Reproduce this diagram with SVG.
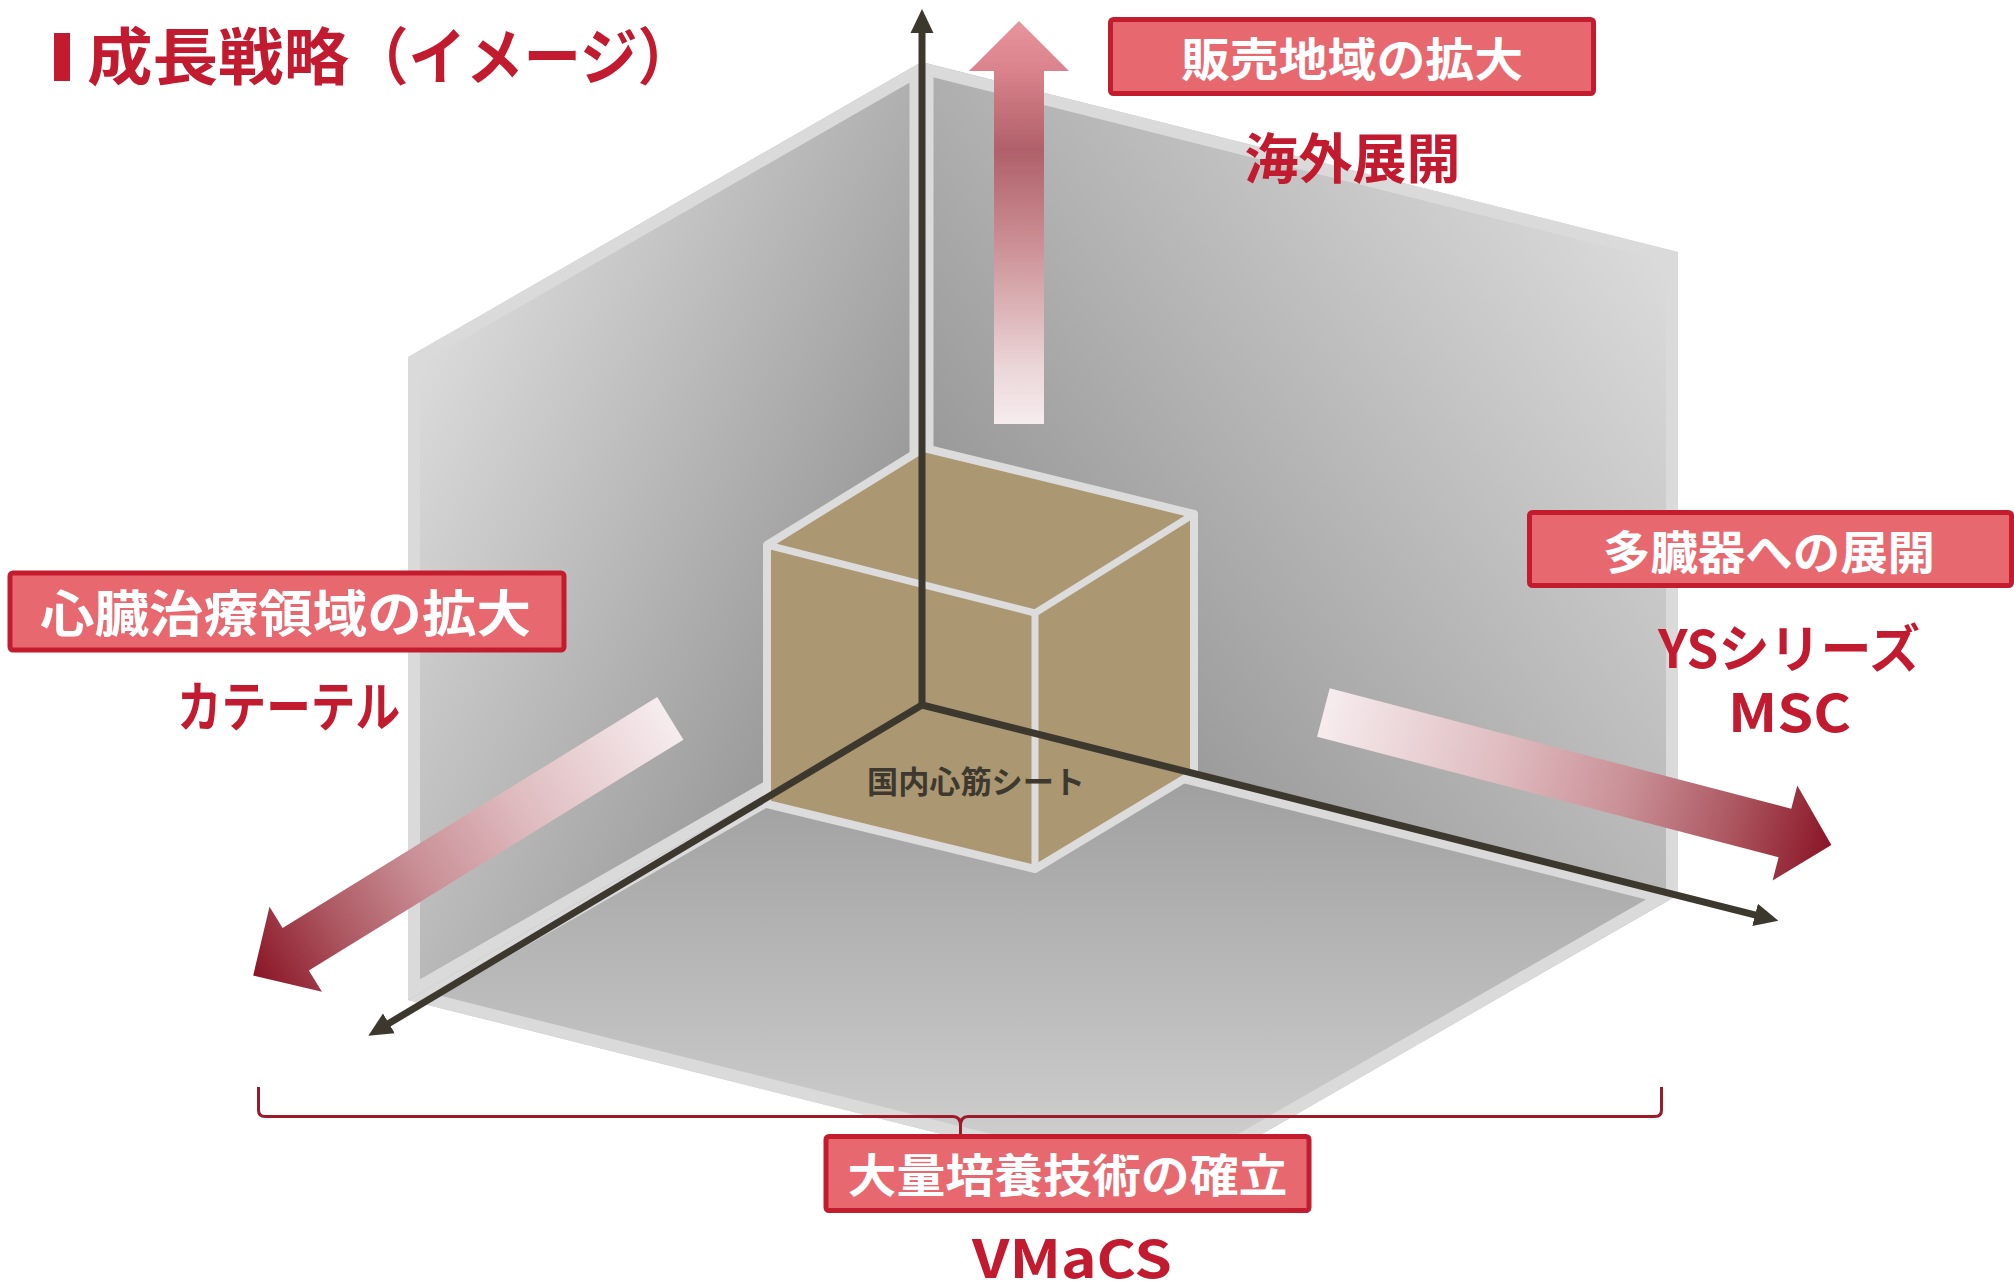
<svg xmlns="http://www.w3.org/2000/svg" width="2014" height="1285" viewBox="0 0 2014 1285">
  <style>
    .jp { font-family: 'Noto Sans CJK JP', 'Noto Sans', sans-serif; font-weight: 700; }
    .red { fill: #c21b2f; }
    .wht { fill: #ffffff; }
    .box { fill: #e8686f; stroke: #c41c2f; stroke-width: 5; }
    .border { fill: none; stroke: #dadada; stroke-width: 24; stroke-linejoin: round; }
    .axis { stroke: #3c382e; stroke-width: 7; fill: none; }
    .edge { fill: none; stroke: #dcdcdc; stroke-linejoin: round; }
    .cubefill { fill: #ab9772; stroke: #dcdcdc; stroke-width: 8; stroke-linejoin: round; }
  </style>
  <defs>
    <linearGradient id="gL" gradientUnits="userSpaceOnUse" x1="411" y1="357" x2="951" y2="607">
      <stop offset="0" stop-color="#dcdcdc"/>
      <stop offset="1" stop-color="#8e8e8e"/>
    </linearGradient>
    <linearGradient id="gR" gradientUnits="userSpaceOnUse" x1="1676" y1="253" x2="1000" y2="760">
      <stop offset="0" stop-color="#dcdcdc"/>
      <stop offset="1" stop-color="#8e8e8e"/>
    </linearGradient>
    <linearGradient id="gF" gradientUnits="userSpaceOnUse" x1="0" y1="705" x2="0" y2="1192">
      <stop offset="0" stop-color="#969696"/>
      <stop offset="1" stop-color="#d4d4d4"/>
    </linearGradient>
    <linearGradient id="gUp" gradientUnits="userSpaceOnUse" x1="0" y1="424" x2="0" y2="21">
      <stop offset="0" stop-color="#f6ecee"/>
      <stop offset="0.14" stop-color="#ebd6d8"/>
      <stop offset="0.31" stop-color="#d9aeb2"/>
      <stop offset="0.47" stop-color="#c98a90"/>
      <stop offset="0.68" stop-color="#b0606a"/>
      <stop offset="0.88" stop-color="#da838c"/>
      <stop offset="1" stop-color="#e8959d"/>
    </linearGradient>
    <linearGradient id="gArr" gradientUnits="objectBoundingBox" x1="0" y1="0" x2="1" y2="0">
      <stop offset="0" stop-color="#f6ecee"/>
      <stop offset="0.35" stop-color="#dfbcc0"/>
      <stop offset="0.6" stop-color="#c98f96"/>
      <stop offset="0.8" stop-color="#ad5862"/>
      <stop offset="1" stop-color="#8a1526"/>
    </linearGradient>
    <clipPath id="cL"><polygon points="921.5,62 408,357 408,1000 921.5,705"/></clipPath>
    <clipPath id="cR"><polygon points="921.5,62 1678,252 1678,895 921.5,705"/></clipPath>
    <clipPath id="cF"><polygon points="921.5,705 408,1000 1164.5,1190 1678,895"/></clipPath>
    <marker id="ah" viewBox="0 0 24 24" refX="12" refY="12" markerWidth="24" markerHeight="24" markerUnits="userSpaceOnUse" orient="auto">
      <path d="M0,0.5 L24,12 L0,23.5 z" fill="#3c382e"/>
    </marker>
  </defs>

  <g id="planes">
    <g id="floor">
      <polygon points="921.5,705 408,1000 1164.5,1190 1678,895" fill="url(#gF)"/>
      <polygon class="border" points="921.5,705 408,1000 1164.5,1190 1678,895" clip-path="url(#cF)"/>
    </g>
    <g id="wall-left">
      <polygon points="921.5,62 408,357 408,1000 921.5,705" fill="url(#gL)"/>
      <polygon class="border" points="921.5,62 408,357 408,1000 921.5,705" clip-path="url(#cL)"/>
    </g>
    <g id="wall-right">
      <polygon points="921.5,62 1678,252 1678,895 921.5,705" fill="url(#gR)"/>
      <polyline class="border" points="921.5,705 921.5,62 1678,252 1678,895" clip-path="url(#cR)"/>
    </g>
  </g>

  <g id="cube">
    <polygon class="cubefill" points="767,545 924,448 1194,514 1194,773 1035,869 767,804"/>
    <polyline class="edge" stroke-width="7" points="767,545 1035,613 1194,514"/>
    <line class="edge" stroke-width="7" x1="1035" y1="613" x2="1035" y2="869"/>
  </g>

  <g id="connectors">
    <line class="axis" x1="922" y1="705" x2="922" y2="21" marker-end="url(#ah)"/>
    <line class="axis" x1="922" y1="705" x2="378.6" y2="1029.5" marker-end="url(#ah)"/>
    <line class="axis" x1="922" y1="705" x2="1766.7" y2="917.8" marker-end="url(#ah)"/>
    <polygon id="arrow-up" points="994,424 994,71 969,71 1019,21 1069,71 1044,71 1044,424" fill="url(#gUp)"/>
    <polygon id="arrow-left" transform="translate(670.3,718.4) rotate(148.35)" points="0,-25 440,-25 440,-50 490,0 440,50 440,25 0,25" fill="url(#gArr)"/>
    <polygon id="arrow-right" transform="translate(1323.4,712.5) rotate(14.63)" points="0,-25 477,-25 477,-49 525,0 477,49 477,25 0,25" fill="url(#gArr)"/>
    <path id="brace" d="M258.5,1087 L258.5,1110 Q258.5,1116.5 265,1116.5 L953,1116.5 Q960.5,1116.5 960.5,1126 L960.5,1135 M960.5,1126 Q960.5,1116.5 968,1116.5 L1655,1116.5 Q1661.5,1116.5 1661.5,1110 L1661.5,1087" fill="none" stroke="#9c1b2b" stroke-width="3"/>
  </g>

  <g id="cube-label">
    <text class="jp" x="867" y="793" font-size="31" textLength="218" lengthAdjust="spacingAndGlyphs" fill="#3d392f">国内心筋シート</text>
  </g>

  <g id="title">
    <rect x="54" y="33" width="16" height="48" fill="#c21b2f"/>
    <text class="jp red" y="80" font-size="62"><tspan x="87" textLength="262" lengthAdjust="spacingAndGlyphs">成長戦略</tspan><tspan x="351" textLength="344" lengthAdjust="spacingAndGlyphs">（イメージ）</tspan></text>
  </g>

  <g id="node-sales">
    <rect class="box" x="1110.5" y="19.5" width="483" height="74" rx="3"/>
    <text class="jp wht" x="1181" y="75.5" font-size="46" textLength="342" lengthAdjust="spacingAndGlyphs">販売地域の拡大</text>
    <text class="jp red" x="1244.5" y="179" font-size="54" textLength="216" lengthAdjust="spacingAndGlyphs">海外展開</text>
  </g>

  <g id="node-heart">
    <rect class="box" x="10" y="573" width="554" height="77" rx="3"/>
    <text class="jp wht" x="40" y="632" font-size="50" textLength="491" lengthAdjust="spacingAndGlyphs">心臓治療領域の拡大</text>
    <text class="jp red" x="177" y="727" font-size="54" textLength="223" lengthAdjust="spacingAndGlyphs">カテーテル</text>
  </g>

  <g id="node-organs">
    <rect class="box" x="1529.5" y="512.5" width="482" height="73" rx="3"/>
    <text class="jp wht" x="1603" y="569" font-size="46" textLength="332" lengthAdjust="spacingAndGlyphs">多臓器への展開</text>
    <text class="jp red" x="1658" y="668" font-size="52" textLength="262" lengthAdjust="spacingAndGlyphs">YSシリーズ</text>
    <text class="jp red" x="1728" y="731.5" font-size="52" textLength="123" lengthAdjust="spacingAndGlyphs">MSC</text>
  </g>

  <g id="node-culture">
    <rect class="box" x="826" y="1136.5" width="483" height="74" rx="3"/>
    <text class="jp wht" x="847.5" y="1192" font-size="46" textLength="440" lengthAdjust="spacingAndGlyphs">大量培養技術の確立</text>
    <text class="jp red" x="972" y="1278" font-size="52" textLength="200" lengthAdjust="spacingAndGlyphs">VMaCS</text>
  </g>
</svg>
